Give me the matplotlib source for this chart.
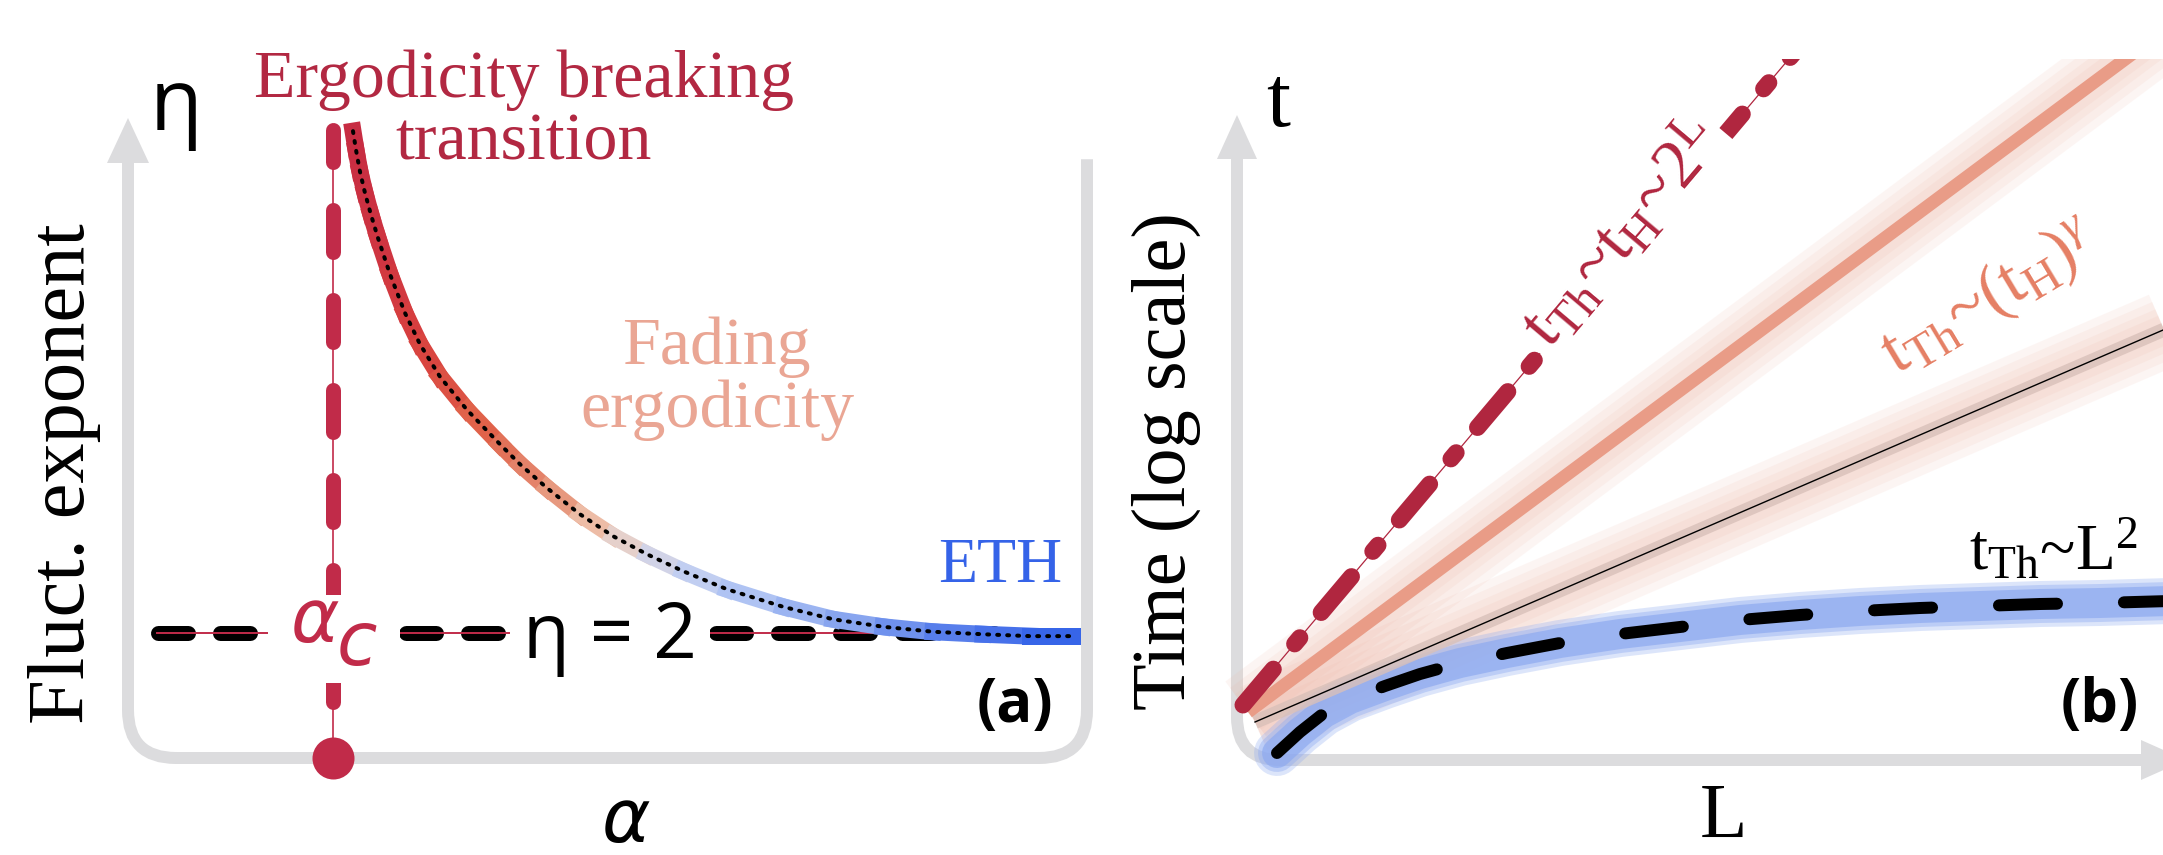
import numpy as np
import matplotlib
matplotlib.use("Agg")
import matplotlib.pyplot as plt
from matplotlib.collections import LineCollection
from matplotlib.colors import LinearSegmentedColormap, Normalize
from matplotlib.path import Path
from matplotlib.patches import PathPatch, Polygon, Rectangle

plt.rcParams['lines.scale_dashes'] = False
plt.rcParams['mathtext.fontset'] = 'custom'
plt.rcParams['mathtext.rm'] = 'Liberation Serif'
plt.rcParams['mathtext.it'] = 'Liberation Serif:italic'
plt.rcParams['mathtext.bf'] = 'Liberation Serif:bold'

# ---- panel (a): fluctuation exponent vs alpha (schematic) ----
alpha_c = 2.05
eta_eth = 2.0
curve_alpha = [2.25, 2.28, 2.32, 2.37, 2.43, 2.50, 2.62, 2.77, 2.92, 3.12, 3.39,
               3.72, 3.92, 4.19, 4.52, 4.85, 5.19, 5.55, 5.99, 6.55, 7.05, 7.55,
               8.05, 8.55, 9.02, 9.44]
curve_eta = [10.03, 9.73, 9.38, 9.04, 8.69, 8.32, 7.74, 7.12, 6.62, 6.10, 5.57,
             5.02, 4.70, 4.32, 3.90, 3.55, 3.26, 2.99, 2.70, 2.42, 2.22, 2.10,
             2.02, 1.98, 1.95, 1.95]
eta2_alpha = [0.295, 8.72]

# ---- panel (b): time scales vs L (log t) ----
hilbert_L = [0.06, 6.0]
hilbert_logt = [0.55, 7.58]
power_L = [0.11, 9.3]
power_logt = [0.48, 7.32]
mid_L = [0.18, 9.4]
mid_logt = [0.38, 4.36]
diff_L = [0.40, 0.63, 0.87, 1.13, 1.48, 1.83, 2.23, 2.70, 3.23, 3.83, 4.43,
          5.03, 5.63, 6.23, 6.83, 7.43, 8.03, 8.63, 9.33]
diff_logt = [0.07, 0.28, 0.47, 0.61, 0.74, 0.86, 0.97, 1.07, 1.17, 1.26, 1.33,
             1.40, 1.45, 1.49, 1.52, 1.54, 1.56, 1.57, 1.59]

PX = 0.72  # points per pixel at dpi 100
GRAY = '#dcdcde'
CRIMSON = '#c12b49'
DARKRED = '#b0263f'
SERIF = ['Liberation Serif', 'DejaVu Serif']
SANS = ['Open Sans', 'DejaVu Sans']

fig = plt.figure(figsize=(21.63, 8.55), dpi=100)
ax_a = fig.add_axes([0, 0, 1100 / 2163, 1])
ax_a.set_xlim(-1.28, 9.72)
ax_a.set_ylim(-1.552, 12.128)
ax_a.set_axis_off()

# frame with rounded corners
rx, ry = 0.48, 0.77
verts = [(0, 9.52), (0, ry), (0, 0), (rx, 0), (9.59 - rx, 0), (9.59, 0), (9.59, ry), (9.59, 9.58)]
codes = [Path.MOVETO, Path.LINETO, Path.CURVE3, Path.CURVE3, Path.LINETO,
         Path.CURVE3, Path.CURVE3, Path.LINETO]
ax_a.add_patch(PathPatch(Path(verts, codes), fc='none', ec=GRAY, lw=12 * PX,
                         capstyle='butt', zorder=1))
ax_a.add_patch(Polygon([(-0.21, 9.52), (0.21, 9.52), (0, 10.24)], fc=GRAY, ec='none', zorder=1))

# eta = 2 dashed line
ax_a.plot(eta2_alpha, [eta_eth] * 2, color='k', lw=15 * PX, dashes=(30 * PX, 32 * PX),
          dash_capstyle='round', zorder=2)
ax_a.plot([0.29, 7.51], [eta_eth] * 2, color=CRIMSON, lw=1.4, zorder=3)

# vertical alpha_c line
ax_a.plot([alpha_c, alpha_c], [10.05, 0], color=CRIMSON, lw=15 * PX,
          linestyle=(10 * PX, (42 * PX, 48 * PX)), dash_capstyle='round', zorder=2)
ax_a.plot([alpha_c, alpha_c], [10.1, 0], color=CRIMSON, lw=1.2, zorder=2)
ax_a.plot([alpha_c], [0], 'o', ms=42 * PX, color=CRIMSON, mec='none', zorder=8)

# masks behind labels
ax_a.add_patch(Rectangle((1.40, 1.20), 1.32, 1.41, fc='white', ec='none', zorder=4))
ax_a.text(1.87, 2.18, r'$\alpha$', math_fontfamily='dejavusans', fontsize=53,
          color=CRIMSON, ha='center', va='center', zorder=5)
ax_a.text(2.29, 1.82, r'$c$', math_fontfamily='dejavusans', fontsize=53,
          color=CRIMSON, ha='center', va='center', zorder=5)
ax_a.text(4.82, 1.60, 'η = 2', family=SANS, fontsize=55, ha='center', va='baseline',
          bbox=dict(boxstyle='square,pad=0.17', fc='white', ec='none'), zorder=5)

# gradient curve
cmap = LinearSegmentedColormap.from_list('fade', [
    (0.0, '#c72c42'), (0.0925, '#d8403f'), (0.175, '#e06048'), (0.268, '#e58a70'),
    (0.313, '#eaa88f'), (0.359, '#efcdbb'), (0.406, '#ddd2d8'), (0.451, '#cbd4ef'),
    (0.534, '#b6c8f4'), (0.686, '#8eaaf0'), (0.824, '#5c82eb'), (1.0, '#3060e8')])
pts = np.column_stack([curve_alpha, curve_eta])
segs = np.stack([pts[:-1], pts[1:]], axis=1)
mids = (pts[:-1, 0] + pts[1:, 0]) / 2
norm = Normalize(curve_alpha[0], curve_alpha[-1])
lc = LineCollection(segs, colors=cmap(norm(mids)), linewidths=17 * PX,
                    capstyle='projecting', zorder=6)
ax_a.add_collection(lc)
ax_a.plot(curve_alpha, curve_eta, color='k', lw=4 * PX, dashes=(1.4, 5.8),
          dash_capstyle='round', zorder=7)

# panel (a) texts
ax_a.text(0.48, 10.4, 'η', family=SANS, fontsize=62, ha='center', va='center')
ax_a.text(-0.63, 4.55, 'Fluct. exponent', family=SERIF, fontsize=58, rotation=90,
          ha='center', va='center')
ax_a.text(4.98, -1.02, r'$\alpha$', math_fontfamily='dejavusans', fontsize=53,
          ha='center', va='center')
ax_a.text(3.96, 10.58, 'Ergodicity breaking', family=SERIF, fontsize=49,
          color='#b22842', ha='center', va='baseline')
ax_a.text(3.96, 9.58, 'transition', family=SERIF, fontsize=49,
          color='#b22842', ha='center', va='baseline')
ax_a.text(5.88, 6.30, 'Fading', family=SERIF, fontsize=49, color='#eaa694',
          ha='center', va='baseline')
ax_a.text(5.89, 5.30, 'ergodicity', family=SERIF, fontsize=49, color='#eaa694',
          ha='center', va='baseline')
ax_a.text(8.72, 2.82, 'ETH', family=SERIF, fontsize=46, color='#3563e8',
          ha='center', va='baseline')
ax_a.text(8.87, 0.58, '(a)', family=SANS, fontsize=43, fontweight='bold',
          ha='center', va='baseline')

# ---- panel (b) ----
ax_b = fig.add_axes([1100 / 2163, 0, 1063 / 2163, 1])
ax_b.set_xlim(-1.37, 9.26)
ax_b.set_ylim(-0.95, 7.60)
ax_b.set_axis_off()

r = 0.43
verts = [(0, 6.01), (0, r), (0, 0), (r, 0), (9.04, 0)]
codes = [Path.MOVETO, Path.LINETO, Path.CURVE3, Path.CURVE3, Path.LINETO]
ax_b.add_patch(PathPatch(Path(verts, codes), fc='none', ec=GRAY, lw=12 * PX,
                         capstyle='butt', zorder=1))
ax_b.add_patch(Polygon([(-0.2, 6.01), (0.2, 6.01), (0, 6.45)], fc=GRAY, ec='none', zorder=1))
ax_b.add_patch(Polygon([(9.04, -0.2), (9.04, 0.2), (9.49, 0)], fc=GRAY, ec='none', zorder=1))

clip = Rectangle((-1.37, -0.95), 11, 7.96, transform=ax_b.transData)
drawn = []
# glows
for w in [76, 60, 44, 30]:
    drawn += ax_b.plot(power_L, power_logt, color='#eeb4a4', lw=w * PX, alpha=0.12,
                       solid_capstyle='butt', zorder=2)
    drawn += ax_b.plot(mid_L, mid_logt, color='#eeb4a4', lw=w * PX, alpha=0.12,
                       solid_capstyle='butt', zorder=2)
for w, a in [(46, 0.3), (38, 0.4), (30, 0.7)]:
    drawn += ax_b.plot(diff_L, diff_logt, color='#8eaaf0', lw=w * PX, alpha=a,
                       solid_capstyle='round', zorder=2)
drawn += ax_b.plot(mid_L, mid_logt, color='#d9c0b9', lw=14 * PX, alpha=0.8,
                   solid_capstyle='butt', zorder=3)
drawn += ax_b.plot(mid_L, mid_logt, color='k', lw=1.0, zorder=4)
drawn += ax_b.plot(power_L, power_logt, color='#e99c87', lw=13 * PX,
                   solid_capstyle='butt', zorder=4)
drawn += ax_b.plot(hilbert_L, hilbert_logt, color=DARKRED, lw=17 * PX,
                   dashes=(33.8, 23.8, 5.8, 23.8), dash_capstyle='round', zorder=4)
drawn += ax_b.plot(hilbert_L, hilbert_logt, color=DARKRED, lw=0.9, zorder=4)
drawn += ax_b.plot(diff_L, diff_logt, color='k', lw=12 * PX, dashes=(41.8, 48.2),
                   dash_capstyle='round', zorder=5)
for ln in drawn:
    ln.set_clip_path(clip)

ax_b.text(3.86, 5.25, r't$_\mathrm{Th}$~t$_\mathrm{H}$~2$^\mathrm{L}$', family=SERIF,
          math_fontfamily='custom', fontsize=50, color=DARKRED, rotation=49.8,
          rotation_mode='anchor', ha='center', va='center',
          bbox=dict(boxstyle='square,pad=0.12', fc='white', ec='none'), zorder=6)
ax_b.text(7.53, 4.62, r't$_\mathrm{Th}$~(t$_\mathrm{H}$)$^\gamma$', family=SERIF,
          math_fontfamily='custom', fontsize=50, color='#e57f64', rotation=31,
          rotation_mode='anchor', ha='center', va='center', zorder=6)
ax_b.text(8.16, 2.10, r't$_\mathrm{Th}$~L$^2$', family=SERIF, math_fontfamily='custom',
          fontsize=47, ha='center', va='center', zorder=6)

ax_b.text(0.41, 6.55, 't', family=SERIF, fontsize=62, ha='center', va='center')
ax_b.text(-0.71, 2.99, 'Time (log scale)', family=SERIF, fontsize=55, rotation=90,
          ha='center', va='center')
ax_b.text(4.87, -0.58, 'L', family=SERIF, fontsize=56, ha='center', va='center')
ax_b.text(8.63, 0.38, '(b)', family=SANS, fontsize=43, fontweight='bold',
          ha='center', va='baseline')

fig.savefig('out.png', dpi=100)
